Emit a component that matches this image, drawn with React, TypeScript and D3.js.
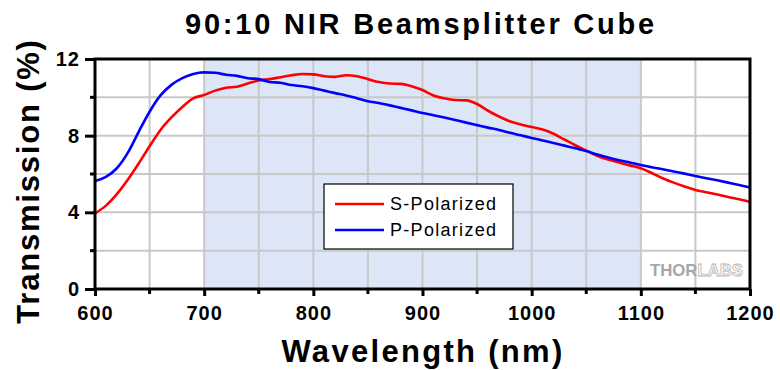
import React, { useEffect, useRef } from 'react';
import * as d3 from 'd3';

// wavelength grid (nm), 10 nm steps
const wavelengths = [
  600, 610, 620, 630, 640, 650, 660, 670, 680, 690,
  700, 710, 720, 730, 740, 750, 760, 770, 780, 790,
  800, 810, 820, 830, 840, 850, 860, 870, 880, 890,
  900, 910, 920, 930, 940, 950, 960, 970, 980, 990,
  1000, 1010, 1020, 1030, 1040, 1050, 1060, 1070, 1080, 1090,
  1100, 1110, 1120, 1130, 1140, 1150, 1160, 1170, 1180, 1190, 1200,
];

const sPolarized = [
  3.95, 4.35, 4.95, 5.7, 6.55, 7.45, 8.3, 8.95, 9.5, 9.95,
  10.12, 10.35, 10.5, 10.55, 10.72, 10.88, 10.95, 11.05, 11.15, 11.22,
  11.2, 11.1, 11.07, 11.15, 11.1, 10.95, 10.8, 10.72, 10.7, 10.58,
  10.38, 10.1, 9.95, 9.86, 9.84, 9.65, 9.3, 9.0, 8.75, 8.58,
  8.45, 8.32, 8.1, 7.8, 7.5, 7.22, 6.95, 6.75, 6.6, 6.45,
  6.3, 6.05, 5.78, 5.55, 5.35, 5.17, 5.05, 4.93, 4.8, 4.68, 4.54,
];

const pPolarized = [
  5.63, 5.85, 6.3, 7.1, 8.2, 9.25, 10.1, 10.65, 11.0, 11.22,
  11.3, 11.28, 11.18, 11.12, 11.0, 10.95, 10.8, 10.76, 10.64, 10.58,
  10.48, 10.35, 10.22, 10.1, 9.95, 9.8, 9.7, 9.58, 9.45, 9.32,
  9.18, 9.07, 8.95, 8.82, 8.68, 8.55, 8.42, 8.3, 8.15, 8.02,
  7.88, 7.75, 7.62, 7.48, 7.34, 7.2, 7.02, 6.86, 6.72, 6.6,
  6.47, 6.35, 6.25, 6.13, 6.02, 5.9, 5.78, 5.67, 5.55, 5.43, 5.3,
];

const seriesNames = ['S-Polarized', 'P-Polarized'];
const seriesColors = ['#ff0000', '#0000ff'];
const shadedBand = [700, 1100];
const xTickValues = [600, 700, 800, 900, 1000, 1100, 1200];
const yTickValues = [0, 4, 8, 12];

const FONT = '"Liberation Sans", Arial, sans-serif';

export default function App() {
  const ref = useRef<SVGSVGElement>(null);

  useEffect(() => {
    const svg = d3.select(ref.current);
    svg.selectAll('*').remove();

    const left = 95, right = 750, top = 59, bottom = 289;
    const x = d3.scaleLinear().domain([600, 1200]).range([left, right]);
    const y = d3.scaleLinear().domain([0, 12]).range([bottom, top]);

    const g = svg.append('g');

    // shaded band
    g.append('rect')
      .attr('x', x(shadedBand[0]))
      .attr('y', top)
      .attr('width', x(shadedBand[1]) - x(shadedBand[0]))
      .attr('height', bottom - top)
      .attr('fill', '#dde6f6');

    // grid
    const gridColor = '#c8c8c8';
    g.selectAll('.vgrid').data(d3.range(650, 1200, 50)).join('line')
      .attr('x1', d => x(d)).attr('x2', d => x(d))
      .attr('y1', top).attr('y2', bottom)
      .attr('stroke', gridColor).attr('stroke-width', 2);
    g.selectAll('.hgrid').data(d3.range(2, 12, 2)).join('line')
      .attr('class', 'hgrid')
      .attr('x1', left).attr('x2', right)
      .attr('y1', d => y(d)).attr('y2', d => y(d))
      .attr('stroke', gridColor).attr('stroke-width', 2);

    // watermark
    const wm = g.append('text')
      .attr('x', 650).attr('y', 276)
      .attr('font-family', FONT).attr('font-weight', 'bold')
      .attr('font-size', 17)
      .attr('textLength', 93).attr('lengthAdjust', 'spacingAndGlyphs');
    wm.append('tspan').attr('fill', '#a6a6a6').text('THOR');
    wm.append('tspan').attr('fill', '#ffffff').attr('stroke', '#b4b4b4')
      .attr('stroke-width', 0.8).text('LABS');

    // curves
    const line = d3.line<number>()
      .x((_, i) => x(wavelengths[i]))
      .y(d => y(d))
      .curve(d3.curveMonotoneX);
    [sPolarized, pPolarized].forEach((vals, i) => {
      g.append('path')
        .attr('d', line(vals) as string)
        .attr('fill', 'none')
        .attr('stroke', seriesColors[i])
        .attr('stroke-width', 2.6);
    });

    // frame
    g.append('rect')
      .attr('x', left).attr('y', top)
      .attr('width', right - left).attr('height', bottom - top)
      .attr('fill', 'none').attr('stroke', '#000').attr('stroke-width', 3);

    // x axis
    const xAxis = g.append('g').attr('transform', `translate(0,${bottom})`)
      .call(d3.axisBottom(x).tickValues(xTickValues).tickSize(7).tickPadding(10).tickFormat(d3.format('d')));
    xAxis.select('.domain').remove();
    xAxis.selectAll('line').attr('stroke', '#000').attr('stroke-width', 3);
    xAxis.selectAll('text').attr('font-family', FONT).attr('font-weight', 'bold')
      .attr('font-size', 20).attr('letter-spacing', 1).attr('fill', '#000');
    g.selectAll('.xminor').data(d3.range(650, 1200, 100)).join('line')
      .attr('x1', d => x(d)).attr('x2', d => x(d))
      .attr('y1', bottom).attr('y2', bottom + 5)
      .attr('stroke', '#000').attr('stroke-width', 3);

    // y axis
    const yAxis = g.append('g').attr('transform', `translate(${left},0)`)
      .call(d3.axisLeft(y).tickValues(yTickValues).tickSize(10).tickPadding(5).tickFormat(d3.format('d')));
    yAxis.select('.domain').remove();
    yAxis.selectAll('line').attr('stroke', '#000').attr('stroke-width', 3);
    yAxis.selectAll('text').attr('font-family', FONT).attr('font-weight', 'bold')
      .attr('font-size', 20).attr('letter-spacing', 1).attr('fill', '#000');
    g.selectAll('.yminor').data([2, 6, 10]).join('line')
      .attr('x1', left - 5).attr('x2', left)
      .attr('y1', d => y(d)).attr('y2', d => y(d))
      .attr('stroke', '#000').attr('stroke-width', 3);

    // legend
    const lg = g.append('g').attr('transform', 'translate(324,184)');
    lg.append('rect').attr('width', 189).attr('height', 65)
      .attr('fill', '#fff').attr('stroke', '#000').attr('stroke-width', 1.2);
    seriesNames.forEach((name, i) => {
      const yy = 20 + i * 26;
      lg.append('line').attr('x1', 11).attr('x2', 60).attr('y1', yy).attr('y2', yy)
        .attr('stroke', seriesColors[i]).attr('stroke-width', 2.5);
      lg.append('text').attr('x', 66).attr('y', yy + 6)
        .attr('font-family', FONT).attr('font-size', 18).attr('letter-spacing', 1.3).text(name);
    });

    // titles
    svg.append('text').attr('x', 421).attr('y', 34).attr('text-anchor', 'middle')
      .attr('font-family', FONT).attr('font-weight', 'bold').attr('font-size', 29)
      .attr('letter-spacing', 2.8)
      .text('90:10 NIR Beamsplitter Cube');
    svg.append('text').attr('x', 423).attr('y', 362).attr('text-anchor', 'middle')
      .attr('font-family', FONT).attr('font-weight', 'bold').attr('font-size', 31)
      .attr('letter-spacing', 2.3)
      .text('Wavelength (nm)');
    svg.append('text').attr('transform', 'translate(39,181) rotate(-90)')
      .attr('text-anchor', 'middle')
      .attr('font-family', FONT).attr('font-weight', 'bold').attr('font-size', 31)
      .attr('letter-spacing', 1.8)
      .text('Transmission (%)');
  }, []);

  return (
    <svg ref={ref} width={780} height={370}
      style={{ position: 'absolute', left: 0, top: 0, background: '#fff' }} />
  );
}
